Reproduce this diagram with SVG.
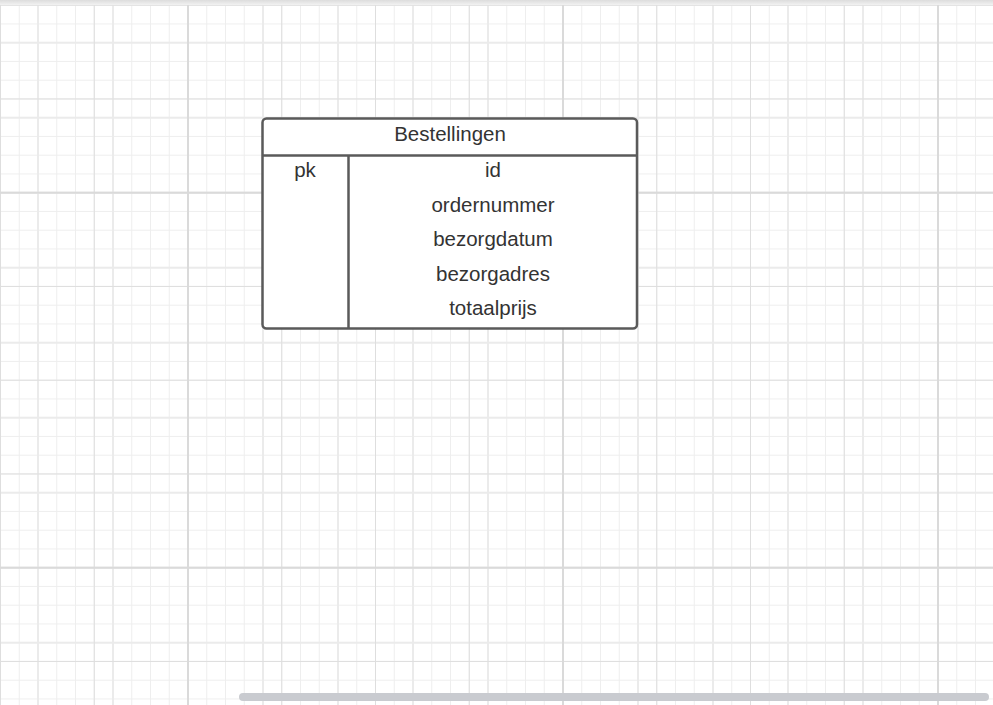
<svg xmlns="http://www.w3.org/2000/svg" width="993" height="705" viewBox="0 0 993 705">
  <style>
    .frame { fill: #ffffff; stroke: #5a5a5a; stroke-width: 2.5; }
    .div { stroke: #5a5a5a; stroke-width: 2.5; fill: none; }
    .t { font-family: "Liberation Sans", Arial, sans-serif; font-size: 20.5px; fill: #333333; text-anchor: middle; }
  </style>
  <defs>
    <pattern id="minor" patternUnits="userSpaceOnUse" x="0" y="4.7" width="18.75" height="18.75">
      <rect x="0" y="0" width="1" height="18.75" fill="#eeeeee"/>
      <rect x="0" y="0" width="18.75" height="1" fill="#eeeeee"/>
    </pattern>
    <pattern id="mid" patternUnits="userSpaceOnUse" x="37" y="41.7" width="75" height="75">
      <rect x="0" y="0" width="2" height="75" fill="#ebebeb"/>
      <rect x="0" y="0" width="75" height="2" fill="#ebebeb"/>
    </pattern>
    <pattern id="half" patternUnits="userSpaceOnUse" x="0" y="4.7" width="93.75" height="93.75">
      <rect x="0" y="0" width="1" height="93.75" fill="#dedede"/>
      <rect x="0" y="0" width="93.75" height="1" fill="#dedede"/>
    </pattern>
    <pattern id="major" patternUnits="userSpaceOnUse" x="187" y="191.7" width="375" height="375">
      <rect x="0" y="0" width="2" height="375" fill="#dadada"/>
      <rect x="0" y="0" width="375" height="2" fill="#dadada"/>
    </pattern>
    <linearGradient id="topbar" x1="0" y1="0" x2="0" y2="1">
      <stop offset="0" stop-color="#dcdcdc"/>
      <stop offset="1" stop-color="#f2f2f2"/>
    </linearGradient>
  </defs>

  <rect x="0" y="0" width="993" height="705" fill="#ffffff"/>
  <rect x="0" y="0" width="993" height="705" fill="url(#minor)"/>
  <rect x="0" y="0" width="993" height="705" fill="url(#mid)"/>
  <rect x="0" y="0" width="993" height="705" fill="url(#half)"/>
  <rect x="0" y="0" width="993" height="705" fill="url(#major)"/>
  <rect x="0" y="0" width="993" height="5" fill="url(#topbar)"/>

  <g id="connectors"></g>

  <g id="Bestellingen">
    <rect class="frame" x="262.5" y="118.5" width="374.5" height="210" rx="4" ry="4"/>
    <line class="div" x1="262.5" y1="155.5" x2="637" y2="155.5"/>
    <line class="div" x1="348.5" y1="155.5" x2="348.5" y2="328.5"/>
    <text class="t" x="450" y="141">Bestellingen</text>
    <text class="t" x="305" y="176.5">pk</text>
    <text class="t" x="493" y="176.5">id</text>
    <text class="t" x="493" y="211.5">ordernummer</text>
    <text class="t" x="493" y="246">bezorgdatum</text>
    <text class="t" x="493" y="280.5">bezorgadres</text>
    <text class="t" x="493" y="315">totaalprijs</text>
  </g>

  <rect x="239" y="693" width="750" height="8" rx="4" ry="4" fill="#c9cbd0"/>
</svg>
